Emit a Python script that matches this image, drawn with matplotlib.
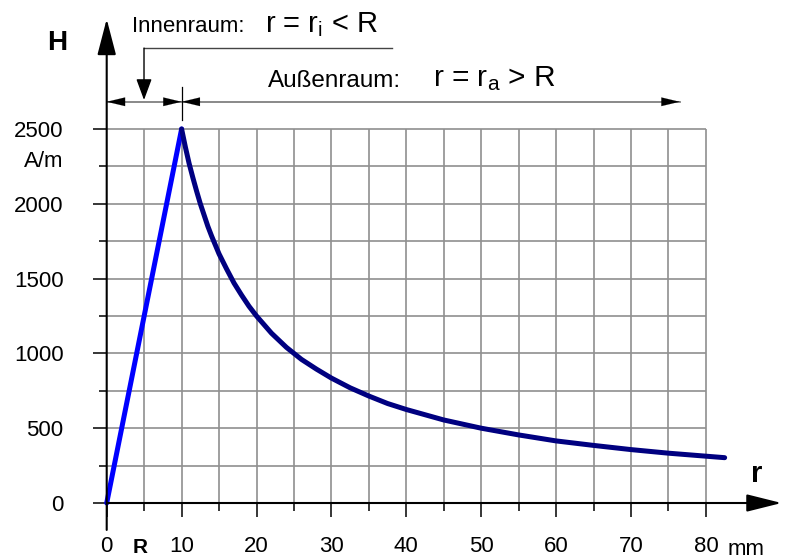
import matplotlib
matplotlib.use("Agg")
import matplotlib.pyplot as plt

plt.rcParams['font.family'] = ['Liberation Sans', 'DejaVu Sans']
plt.rcParams['mathtext.default'] = 'regular'

# field strength inside the conductor (r <= R) and outside (r >= R)
r_inner = [0, 10]
H_inner = [0, 2500]
r_outer = [10, 10.5, 11, 11.5, 12, 12.5, 13, 13.5, 14, 15, 16, 17, 18, 19, 20, 22, 24,
           26, 28, 30, 32.5, 35, 37.5, 40, 45, 50, 55, 60, 65, 70, 75, 80, 82.5]
H_outer = [2500, 2380, 2270, 2175, 2085, 2000, 1925, 1850, 1785, 1665, 1565, 1470,
           1390, 1315, 1250, 1135, 1040, 960, 895, 835, 770, 715, 665, 625, 555, 500,
           455, 415, 385, 357, 333, 313, 303]

x_major = [0, 10, 20, 30, 40, 50, 60, 70, 80]
x_minor = [5, 15, 25, 35, 45, 55, 65, 75]
y_major = [0, 500, 1000, 1500, 2000, 2500]
y_minor = [250, 750, 1250, 1750, 2250]
x_grid = list(range(5, 85, 5))
y_grid = list(range(250, 2750, 250))

fig = plt.figure(figsize=(7.86, 5.59), dpi=100)
ax = fig.add_axes([0, 0, 1, 1])
ax.set_xlim(-14.246, 90.69)
ax.set_ylim(-374.3, 3362.3)
for s in ax.spines.values():
    s.set_color('none')
ax.spines['left'].set_position(('data', 0))
ax.spines['bottom'].set_position(('data', 0))
ax.patch.set_visible(False)

# grid
ax.vlines(x_grid, 0, 2500, color='#8f8f8f', lw=1.2, zorder=1)
ax.hlines(y_grid, 0, 80, color='#8f8f8f', lw=1.2, zorder=1)

# ticks
ax.set_xticks(x_major)
ax.set_xticks(x_minor, minor=True)
ax.set_yticks(y_major)
ax.set_yticks(y_minor, minor=True)
ax.tick_params(axis='both', which='major', direction='out', length=10, width=1.1,
               labelsize=16, color='black')
ax.tick_params(axis='both', which='minor', direction='out', length=5.5, width=1.1,
               color='black')
ax.tick_params(axis='x', which='major', pad=14)
ax.tick_params(axis='y', which='major', pad=21)

# curves
ax.plot(r_inner, H_inner, color='#0000ff', lw=3.6, solid_capstyle='round', zorder=4)
ax.plot(r_outer, H_outer, color='#000080', lw=3.6, solid_capstyle='round', zorder=4)

# axes with arrows
ax.annotate('', xy=(90.1, 0), xytext=(0, 0),
            arrowprops=dict(arrowstyle='-|>,head_length=2.16,head_width=0.54',
                            mutation_scale=10, lw=1.5, color='black',
                            shrinkA=0, shrinkB=0), zorder=5)
ax.annotate('', xy=(0, 3235), xytext=(0, -180),
            arrowprops=dict(arrowstyle='-|>,head_length=2.23,head_width=0.58',
                            mutation_scale=10, lw=1.5, color='black',
                            shrinkA=0, shrinkB=0), zorder=5)

# dimension lines: gray line, black heads
dim_y = 2682
ax.plot([0, 76.5], [dim_y, dim_y], color='#808080', lw=1.3, zorder=2)
head = dict(arrowstyle='-|>,head_length=1.3,head_width=0.31', mutation_scale=10,
            lw=0.1, color='black', shrinkA=0, shrinkB=0)
for tip, tail in [(0, 2.5), (10, 7.5), (10, 12.5), (76.5, 74)]:
    ax.annotate('', xy=(tip, dim_y), xytext=(tail, dim_y), arrowprops=head, zorder=3)
ax.plot([10, 10], [2560, 2781], color='black', lw=0.9)
ax.plot([38.1, 4.98], [3041, 3041], color='#444444', lw=1.0)
ax.annotate('', xy=(4.98, 2694), xytext=(4.98, 3041),
            arrowprops=dict(arrowstyle='-|>,head_length=1.3,head_width=0.48',
                            mutation_scale=10, lw=1.0, color='black',
                            shrinkA=0, shrinkB=0))

# labels
ax.text(3.34, 3150, 'Innenraum:', fontsize=16, va='baseline', ha='left')
ax.text(21.13, 3150, 'r = r$_i$ < R', fontsize=21, va='baseline', ha='left')
ax.text(21.54, 2783, 'Außenraum:', fontsize=17.5, va='baseline', ha='left')
ax.text(43.56, 2783, 'r = r$_a$ > R', fontsize=21.5, va='baseline', ha='left')
ax.text(-6.64, 3075, 'H', fontsize=20, fontweight='bold', ha='center', va='center')
ax.text(86.8, 194, 'r', fontsize=21, fontweight='bold', ha='center', va='center')
ax.text(82.95, -347.6, 'mm', fontsize=16, ha='left', va='baseline')
ax.text(4.42, -361, 'R', fontsize=15, fontweight='bold', ha='center', va='bottom')
ax.text(-5.83, 2286, 'A/m', fontsize=16, ha='right', va='center')

fig.savefig('out.png', dpi=100)
